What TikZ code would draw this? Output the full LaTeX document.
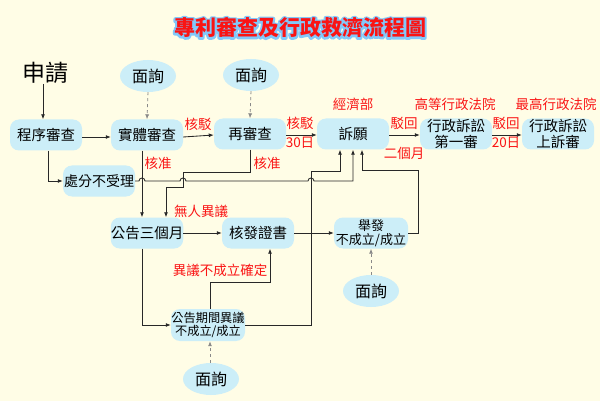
\documentclass[tikz,border=0pt]{standalone}
\usepackage{fontspec}
\setmainfont{Liberation Serif}
\newfontfamily\cjk{Noto Sans CJK TC}
\usetikzlibrary{arrows.meta,shapes.geometric}
\definecolor{bg}{RGB}{255,253,230}
\definecolor{boxc}{RGB}{204,238,248}
\definecolor{ln}{RGB}{40,40,40}
\definecolor{glow}{RGB}{130,200,250}
\definecolor{lab}{RGB}{250,20,20}
\tikzset{
 box/.style={fill=boxc, rounded corners=9pt, minimum width=72pt, minimum height=31pt, inner sep=0pt, align=center, font=\cjk\fontsize{14.5}{15.5}\selectfont},
 smallbox/.style={box, font=\cjk\fontsize{13}{14}\selectfont},
 oval/.style={ellipse, fill=boxc, minimum width=56pt, minimum height=32pt, inner sep=0pt, font=\cjk\fontsize{16}{18}\selectfont},
 lab/.style={text=lab, inner sep=0pt, font=\cjk\fontsize{13.5}{15}\selectfont},
 arr/.style={draw=ln, line width=0.85pt, -{Latex[length=5pt,width=4pt]}},
 darr/.style={arr, draw=ln!55, dash pattern=on 3pt off 3pt},
 ttl/.style={inner sep=0pt, font=\cjk\bfseries\fontsize{21}{24}\selectfont}
}
\begin{document}
\begin{tikzpicture}[x=1pt,y=-1pt]
\fill[bg] (0,0) rectangle (600,401);
\useasboundingbox (0,0) rectangle (600,401);
% title: blue stroked glow under red text
\node[ttl,text=glow] (tglow) at (300,28) {\special{pdf:literal direct 1 Tr 4 w 1 j 1 J}專利審查及行政救濟流程圖\special{pdf:literal direct 0 Tr 1 w}};
\node[ttl,text=lab] (title) at (300,28) {專利審查及行政救濟流程圖};

% nodes
\node[inner sep=0pt, font=\cjk\fontsize{23}{25}\selectfont] (apply) at (45,73) {申請};
\node[oval] (mx1) at (148,76) {面詢};
\node[oval] (mx2) at (251,75) {面詢};
\node[oval] (mx3) at (371,291) {面詢};
\node[oval] (mx4) at (211,379) {面詢};
\node[box] (chengxu) at (46,135) {程序審查};
\node[box] (shiti) at (147,135) {實體審查};
\node[box] (zai) at (250,134) {再審查};
\node[box] (suyuan) at (353,134) {訴願};
\node[box] (first) at (456,134) {行政訴訟\\第一審};
\node[box] (upper) at (558,134) {行政訴訟\\上訴審};
\node[box, font=\cjk\fontsize{14}{15}\selectfont] (chufen) at (99,181) {處分不受理};
\node[box] (gonggao) at (147,233) {公告三個月};
\node[box] (hefa) at (258,233) {核發證書};
\node[smallbox, minimum width=74pt] (jufa) at (371,233) {舉發\\不成立/成立};
\node[box, font=\cjk\fontsize{12.2}{13}\selectfont, minimum height=32pt, minimum width=74pt] (yiyi) at (208,325) {公告期間異議\\不成立/成立};

% labels
\node[lab] (l1) at (198,124) {核駁};
\node[lab] (l2) at (300,123) {核駁};
\node[lab] (l3) at (300,143) {30{\cjk 日}};
\node[lab] (l4) at (353,104) {經濟部};
\node[lab] (l5) at (404,123) {駁回};
\node[lab] (l6) at (404,153) {二個月};
\node[lab] (l7) at (455,104) {高等行政法院};
\node[lab] (l8) at (506,123) {駁回};
\node[lab] (l9) at (506,143) {20{\cjk 日}};
\node[lab] (l10) at (556,104) {最高行政法院};
\node[lab] (l11) at (158,163) {核准};
\node[lab] (l12) at (267,163) {核准};
\node[lab] (l13) at (201,211) {無人異議};
\node[lab] (l14) at (220,270) {異議不成立確定};

% connectors
\draw[arr] ([xshift=-2pt]apply.south) -- ([xshift=-3pt]chengxu.north);
\draw[darr] (mx1.south) -- (shiti.north);
\draw[darr] (mx2.south) -- (zai.north);
\draw[darr] (mx3.north) -- (jufa.south);
\draw[darr] ([xshift=-1pt]mx4.north) -- ([xshift=2pt]yiyi.south);
\draw[arr] ([yshift=-2pt]chengxu.east) -- ([yshift=-2pt]shiti.west);
\draw[arr] ([yshift=-2pt]shiti.east) -- ([yshift=-1pt]zai.west);
\draw[arr] ([yshift=-1pt]zai.east) -- ([yshift=-1pt]suyuan.west);
\draw[arr] ([yshift=-1pt]suyuan.east) -- ([yshift=-1pt]first.west);
\draw[arr] ([yshift=-1pt]first.east) -- ([yshift=-1pt]upper.west);
\draw[arr] ([xshift=2pt]chengxu.south) |- (chufen.west);
\draw[arr] ([xshift=-5pt]shiti.south) -- ([xshift=-5pt]gonggao.north);
\draw[arr] (zai.south) |- (183,172) -- (183,187) -| ([xshift=19pt]gonggao.north);
\draw[arr] (gonggao.east) -- (hefa.west);
\draw[arr] (hefa.east) -- (jufa.west);
\draw[arr] ([xshift=-5pt]gonggao.south) |- (yiyi.west);
\draw[arr] ([xshift=2pt]yiyi.north) -- (210,282) -| ([xshift=12pt]hefa.south);
\draw[arr] (yiyi.east) -| (311,171) -| ([xshift=-13pt]suyuan.south);
\draw[arr] (jufa.east) -| (418,170) -| ([xshift=9pt]suyuan.south);
\draw[arr] (chufen.east) -- (139,181) arc[start angle=180,end angle=0,radius=3pt]
  -- (180,181) arc[start angle=180,end angle=0,radius=3pt]
  -- (308,181) arc[start angle=180,end angle=0,radius=3pt]
  -- (353,181) -- (suyuan.south);
\end{tikzpicture}
\end{document}
